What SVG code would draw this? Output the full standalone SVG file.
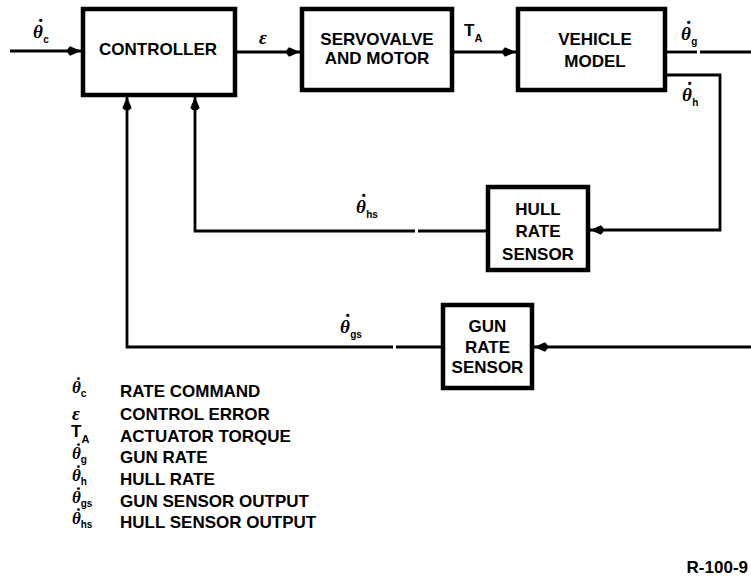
<svg xmlns="http://www.w3.org/2000/svg" width="751" height="587" viewBox="0 0 751 587">
<defs>
<marker id="arr" viewBox="0 0 15 10" refX="15" refY="5" markerWidth="15" markerHeight="10" markerUnits="userSpaceOnUse" orient="auto">
<path d="M15,5 L4,0.3 Q-1.5,5 4,9.7 Z" fill="#000"/>
</marker>
<style>
.box{fill:#fff;stroke:#000;stroke-width:4.5}
.lbl{font-family:"Liberation Sans",Arial,sans-serif;font-weight:bold;font-size:17px;fill:#000;text-anchor:middle}
.leg{font-family:"Liberation Sans",Arial,sans-serif;font-weight:bold;font-size:17px;fill:#000}
.ln{fill:none;stroke:#000;stroke-width:2.8}
.sym{font-family:"Liberation Serif","Times New Roman",serif;font-style:italic;font-weight:bold;font-size:19px;fill:#000}
.lsym{font-family:"Liberation Serif","Times New Roman",serif;font-style:italic;font-weight:bold;font-size:17px;fill:#000}
.dot{font-family:"Liberation Serif","Times New Roman",serif;font-style:normal;font-weight:bold;font-size:22px}
.ldot{font-family:"Liberation Serif","Times New Roman",serif;font-style:normal;font-weight:bold;font-size:19px}
.sub{font-family:"Liberation Sans",Arial,sans-serif;font-weight:bold;font-size:10px;font-style:normal}
</style>
</defs>
<rect width="751" height="587" fill="#fff"/>

<g id="connectors">
<line class="ln" x1="10" y1="51" x2="81" y2="51" marker-end="url(#arr)"/>
<line class="ln" x1="237" y1="52" x2="300" y2="52" marker-end="url(#arr)"/>
<line class="ln" x1="454" y1="52" x2="516" y2="52" marker-end="url(#arr)"/>
<line class="ln" x1="667" y1="52" x2="697" y2="52"/>
<line class="ln" x1="700" y1="52" x2="751" y2="52"/>
<polyline class="ln" points="667,75 720,75 720,230 590,230" marker-end="url(#arr)"/>
<polyline class="ln" points="486,231 418,231"/>
<polyline class="ln" points="415,231 195,231 195,97" marker-end="url(#arr)"/>
<line class="ln" x1="751" y1="347" x2="534" y2="347" marker-end="url(#arr)"/>
<polyline class="ln" points="441,347 396,347"/>
<polyline class="ln" points="393,347 127,347 127,97" marker-end="url(#arr)"/>
</g>

<g id="controller">
<rect class="box" x="83" y="9" width="152" height="86"/>
<text class="lbl" x="158" y="55">CONTROLLER</text>
</g>
<g id="servovalve">
<rect class="box" x="302" y="9" width="150" height="81"/>
<text class="lbl" x="377" y="45">SERVOVALVE</text>
<text class="lbl" x="377" y="64">AND MOTOR</text>
</g>
<g id="vehicle">
<rect class="box" x="518" y="9" width="147" height="81"/>
<text class="lbl" x="595" y="45">VEHICLE</text>
<text class="lbl" x="595" y="67">MODEL</text>
</g>
<g id="hull-sensor">
<rect class="box" x="488" y="187" width="100" height="83"/>
<text class="lbl" x="538" y="215">HULL</text>
<text class="lbl" x="538" y="237">RATE</text>
<text class="lbl" x="538" y="260">SENSOR</text>
</g>
<g id="gun-sensor">
<rect class="box" x="443" y="305" width="89" height="83"/>
<text class="lbl" x="487.5" y="332">GUN</text>
<text class="lbl" x="487.5" y="353">RATE</text>
<text class="lbl" x="487.5" y="373">SENSOR</text>
</g>

<g id="labels">
<text class="sym" x="33" y="38">θ<tspan class="dot" dx="-6" dy="-4">˙</tspan><tspan class="sub" dx="-1" dy="9">c</tspan></text>
<text class="sym" x="259" y="44" font-size="13">ε</text>
<text class="leg" x="464" y="36" font-size="13">T<tspan dy="6" font-size="11">A</tspan></text>
<text class="sym" x="681" y="40">θ<tspan class="dot" dx="-6" dy="-4">˙</tspan><tspan class="sub" dx="-1" dy="9">g</tspan></text>
<text class="sym" x="682" y="101">θ<tspan class="dot" dx="-6" dy="-4">˙</tspan><tspan class="sub" dx="-1" dy="9">h</tspan></text>
<text class="sym" x="356" y="213">θ<tspan class="dot" dx="-6" dy="-4">˙</tspan><tspan class="sub" dx="-1" dy="9">hs</tspan></text>
<text class="sym" x="340" y="333">θ<tspan class="dot" dx="-6" dy="-4">˙</tspan><tspan class="sub" dx="-1" dy="9">gs</tspan></text>
</g>

<g id="legend">
<text class="lsym" x="72" y="393">θ<tspan class="ldot" dx="-5.5" dy="-3">˙</tspan><tspan class="sub" dx="-1" dy="7">c</tspan></text>
<text class="leg" x="120" y="397">RATE COMMAND</text>
<text class="sym" x="72" y="420" font-size="13">ε</text>
<text class="leg" x="120" y="420">CONTROL ERROR</text>
<text class="leg" x="71" y="437" font-size="13">T<tspan dy="6" font-size="11">A</tspan></text>
<text class="leg" x="120" y="442">ACTUATOR TORQUE</text>
<text class="lsym" x="72" y="459">θ<tspan class="ldot" dx="-5.5" dy="-3">˙</tspan><tspan class="sub" dx="-1" dy="7">g</tspan></text>
<text class="leg" x="120" y="463">GUN RATE</text>
<text class="lsym" x="72" y="481">θ<tspan class="ldot" dx="-5.5" dy="-3">˙</tspan><tspan class="sub" dx="-1" dy="7">h</tspan></text>
<text class="leg" x="120" y="485">HULL  RATE</text>
<text class="lsym" x="72" y="503">θ<tspan class="ldot" dx="-5.5" dy="-3">˙</tspan><tspan class="sub" dx="-1" dy="7">gs</tspan></text>
<text class="leg" x="120" y="507">GUN SENSOR OUTPUT</text>
<text class="lsym" x="72" y="524">θ<tspan class="ldot" dx="-5.5" dy="-3">˙</tspan><tspan class="sub" dx="-1" dy="7">hs</tspan></text>
<text class="leg" x="120" y="528">HULL SENSOR OUTPUT</text>
</g>

<text class="leg" x="748" y="573" font-size="10" text-anchor="end">R-100-9</text>
</svg>
